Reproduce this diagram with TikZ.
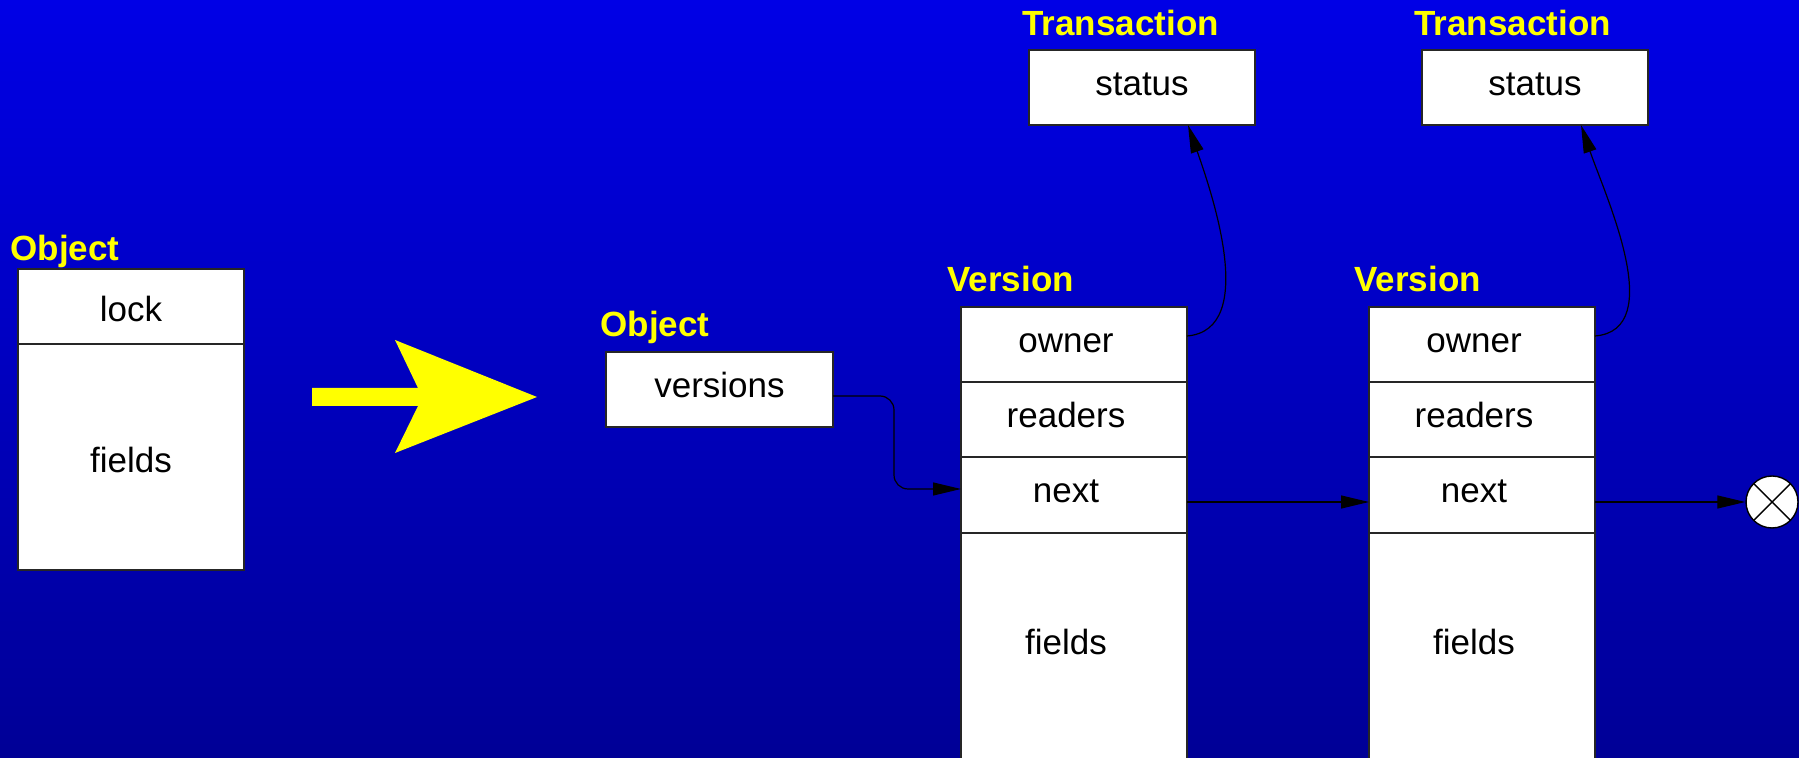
\documentclass[tikz,border=0pt]{standalone}
\usepackage{fontspec}
\setmainfont{Liberation Sans}
\usetikzlibrary{arrows.meta}
\definecolor{bgtop}{RGB}{0,0,230}
\definecolor{bgbot}{RGB}{0,0,150}
\definecolor{lblyellow}{RGB}{255,255,0}
\begin{document}
\begin{tikzpicture}[x=0.5pt,y=-0.5pt,
  fs/.style={font=\fontsize{17.5}{21}\selectfont},
  cell/.style={draw=black!85, line width=0.7pt, fill=white, inner sep=0pt, outer sep=0pt,
               minimum width=113pt, minimum height=37.5pt, fs, text height=12pt, text depth=4pt},
  lowcell/.style={cell, text height=19.5pt, text depth=4pt},
  vcell/.style={cell, execute at end node={\hspace{8pt}}},
  vfields/.style={cell, anchor=north, minimum height=125pt,
      label={[fs, text height=12pt, text depth=4pt, yshift=6pt, xshift=-4pt]center:fields}},
  tag/.style={text=lblyellow, font=\fontsize{17.5}{21}\selectfont\bfseries, anchor=base west, inner sep=0pt},
  conn/.style={draw=black, line width=0.6pt, -{Triangle[length=14pt,width=6.5pt]}},
  nilnode/.style={circle, draw=black, line width=0.7pt, fill=white, minimum size=26pt, inner sep=0pt,
     path picture={\draw[line width=0.7pt] (path picture bounding box.north west) -- (path picture bounding box.south east)
                   (path picture bounding box.north east) -- (path picture bounding box.south west);}}
]
\useasboundingbox (0,0) rectangle (1799,758);
\clip (0,0) rectangle (1799,758);
\shade[top color=bgtop, bottom color=bgbot] (0,0) rectangle (1799,758);

% left object
\node[tag] (objA) at (10,261) {Object};
\node[lowcell] (lock) at (131,306.5) {lock};
\node[lowcell, minimum height=113pt] (fieldsA) at (131,457) {fields};

% big yellow arrow
\fill[lblyellow] (312,388) -- (418,388) -- (395,340) -- (537,397) -- (395,453) -- (418,406) -- (312,406) -- cycle;

% object with versions
\node[tag] (objB) at (600,337) {Object};
\node[cell, minimum width=113.5pt] (versions) at (719.5,389.5) {versions};

% version 1
\node[tag] (ver1) at (947,291.5) {Version};
\node[vcell] (v1owner) at (1074,344.5) {owner};
\node[vcell] (v1readers) at (1074,419.5) {readers};
\node[vcell] (v1next) at (1074,495) {next};
\node[vfields] (v1fields) at (1074,533) {};

% version 2
\node[tag] (ver2) at (1354,291.5) {Version};
\node[vcell] (v2owner) at (1482,344.5) {owner};
\node[vcell] (v2readers) at (1482,419.5) {readers};
\node[vcell] (v2next) at (1482,495) {next};
\node[vfields] (v2fields) at (1482,533) {};

% transactions
\node[tag] (tr1) at (1022,36) {Transaction};
\node[cell] (t1) at (1142,87.5) {status};
\node[tag] (tr2) at (1414,36) {Transaction};
\node[cell] (t2) at (1535,87.5) {status};

% null
\node[nilnode] (nil) at (1772,502) {};

% connectors
\coordinate (vmid) at (894,440);
\draw[conn, rounded corners=7pt] ([yshift=-3.25pt]versions.east) -| (vmid) |- ([yshift=3pt]v1next.west);
\draw[conn] ([yshift=4.25pt]v1owner.east) .. controls +(36.5pt,3pt) and +(11pt,-31.5pt) .. ([xshift=23pt]t1.south);
\draw[conn] ([yshift=4.25pt]v2owner.east) .. controls +(36.5pt,3pt) and +(12pt,-35pt) .. ([xshift=23pt]t2.south);
\draw[conn] ([yshift=-3.5pt]v1next.east) -- ([yshift=-3.5pt]v2next.west);
\draw[conn] ([yshift=-3.5pt]v2next.east) -- (nil.west);
\end{tikzpicture}
\end{document}
